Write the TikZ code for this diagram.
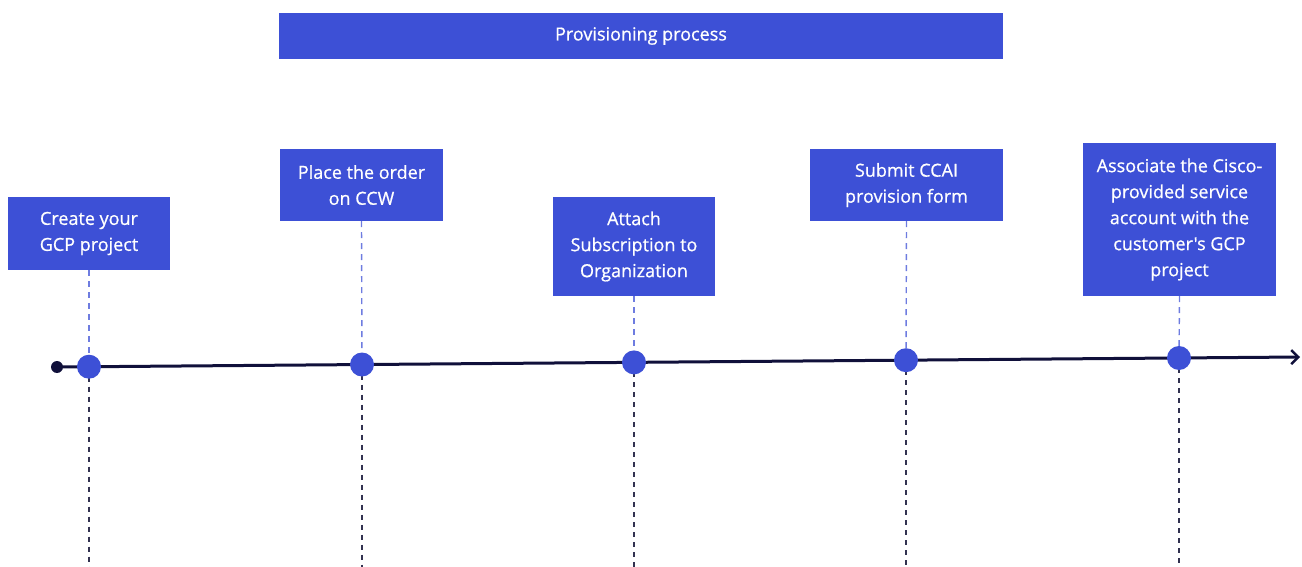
\documentclass[tikz,border=0pt]{standalone}
\usepackage{fontspec}
\setmainfont{Open Sans}
\newfontfamily\boxfont{Open Sans}[FakeBold=0.7]
\usetikzlibrary{arrows.meta}
\definecolor{boxblue}{RGB}{61,80,214}
\definecolor{navy}{RGB}{16,16,58}
\definecolor{lightdash}{RGB}{110,124,224}
\definecolor{darkdash}{RGB}{50,50,80}
\tikzset{
  stepbox/.style={fill=boxblue, draw=none, text=white, align=center, inner sep=0pt,
    font=\boxfont\fontsize{18}{26}\selectfont},
  dot/.style={circle, fill=boxblue, draw=none, minimum size=24pt, inner sep=0pt},
  updash/.style={draw=lightdash, line width=1.4pt, dash pattern=on 6pt off 5pt},
  downdash/.style={draw=darkdash, line width=1.6pt, dash pattern=on 5pt off 5pt},
}
\begin{document}
\begin{tikzpicture}[x=1pt,y=-1pt]
\useasboundingbox (0,0) rectangle (1302,567);
% title
\node[stepbox, minimum width=724pt, minimum height=46pt, font=\boxfont\fontsize{18}{20}\selectfont] (title) at (641,36) {Provisioning process};
% step boxes
\node[stepbox, minimum width=162pt, minimum height=73pt] (b1) at (89,233.5) {Create your\\GCP project};
\node[stepbox, minimum width=163pt, minimum height=72pt] (b2) at (361.5,185) {Place the order\\on CCW};
\node[stepbox, minimum width=162pt, minimum height=99pt] (b3) at (634,246.5) {Attach\\Subscription to\\Organization};
\node[stepbox, minimum width=193pt, minimum height=72pt] (b4) at (906.5,185) {Submit CCAI\\provision form};
\node[stepbox, minimum width=193pt, minimum height=153pt] (b5) at (1179.5,219.5) {Associate the Cisco-\\provided service\\account with the\\customer's GCP\\project};
% timeline points
\coordinate (start) at (57,367);
\coordinate (end) at (1300,357);
\coordinate (p1) at (89,366.7);
\coordinate (p2) at (362,364.5);
\coordinate (p3) at (634,362.4);
\coordinate (p4) at (906,360.2);
\coordinate (p5) at (1179,358);
\foreach \i in {1,...,5}{
  \coordinate (q\i) at (p\i |- 0,567);
  \draw[updash] (b\i.south) -- (p\i);
  \draw[downdash] (p\i) -- (q\i);
}
% timeline
\draw[navy, line width=3pt, -{Straight Barb[length=7pt,width=14pt,line width=2.5pt]}] (start) -- (end);
\node[circle, fill=navy, minimum size=12pt, inner sep=0pt] (s) at (start) {};
\foreach \i in {1,...,5}{
  \node[dot] (c\i) at (p\i) {};
}
\end{tikzpicture}
\end{document}
